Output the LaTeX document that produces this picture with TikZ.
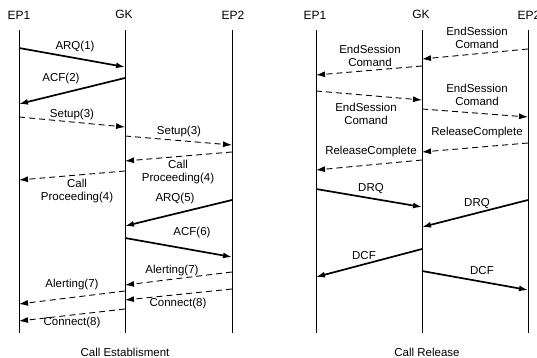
\documentclass[tikz,border=0pt]{standalone}
\usepackage{fontspec}
\setmainfont{Liberation Sans}
\usetikzlibrary{arrows.meta}
\begin{document}
\begin{tikzpicture}[x=1pt,y=-1pt,
  lifeline/.style={line width=0.9pt},
  msg/.style={line width=1.7pt,-{Latex[length=9pt,width=6pt]}},
  dmsg/.style={line width=0.9pt,dash pattern=on 6pt off 4pt,-{Latex[length=9pt,width=6pt]}},
  lbl/.style={font={\fontsize{11.5}{13}\selectfont},inner sep=0pt,align=center},
  hdr/.style={font={\fontsize{12}{13}\selectfont},inner sep=0pt}]
\useasboundingbox (0,0) rectangle (537,358);
\clip (0,0) rectangle (537,358);
% headers
\node[hdr] (h1) at (19,15) {EP1};
\node[hdr] (h2) at (124,14) {GK};
\node[hdr] (h3) at (233,15) {EP2};
\node[hdr] (h4) at (315,15) {EP1};
\node[hdr] (h5) at (421,14) {GK};
\node[hdr] (h6) at (529,15) {EP2};
% lifelines
\foreach \n/\x in {a/19,b/125,c/232,d/316,e/422,f/528}{
  \coordinate (\n t) at (\x,30);
  \coordinate (\n b) at (\x,333);
  \draw[lifeline] (\n t) -- (\n b);
}
% captions
\node[lbl] (cap1) at (125,352) {Call Establisment};
\node[lbl] (cap2) at (427,352) {Call Release};
% ---- left panel
\coordinate (l1s) at (19,48);  \coordinate (l1e) at (125,67);
\draw[msg] (l1s) -- (l1e);
\node[lbl] (t1) at (75,47) {ARQ(1)};
\coordinate (l2s) at (125,78); \coordinate (l2e) at (19,104);
\draw[msg] (l2s) -- (l2e);
\node[lbl] (t2) at (61,79) {ACF(2)};
\coordinate (l3s) at (19,117); \coordinate (l3e) at (125,127);
\draw[dmsg] (l3s) -- (l3e);
\node[lbl] (t3) at (72,115) {Setup(3)};
\coordinate (l4s) at (125,136); \coordinate (l4e) at (232,145);
\draw[dmsg] (l4s) -- (l4e);
\node[lbl] (t4) at (179,132) {Setup(3)};
\coordinate (l5s) at (232,152); \coordinate (l5e) at (125,161);
\draw[dmsg] (l5s) -- (l5e);
\node[lbl] (t5) at (178,172) {Call\\Proceeding(4)};
\coordinate (l6s) at (125,171); \coordinate (l6e) at (19,180);
\draw[dmsg] (l6s) -- (l6e);
\node[lbl] (t6) at (77,191) {Call\\Proceeding(4)};
\coordinate (l7s) at (232,200); \coordinate (l7e) at (125,226);
\draw[msg] (l7s) -- (l7e);
\node[lbl] (t7) at (175,199) {ARQ(5)};
\coordinate (l8s) at (125,238); \coordinate (l8e) at (232,257);
\draw[msg] (l8s) -- (l8e);
\node[lbl] (t8) at (192,233) {ACF(6)};
\coordinate (l9s) at (232,272); \coordinate (l9e) at (125,285);
\draw[dmsg] (l9s) -- (l9e);
\node[lbl] (t9) at (172,271) {Alerting(7)};
\coordinate (l10s) at (125,291); \coordinate (l10e) at (19,304);
\draw[dmsg] (l10s) -- (l10e);
\node[lbl] (t10) at (72,285) {Alerting(7)};
\coordinate (l11s) at (232,289); \coordinate (l11e) at (125,300);
\draw[dmsg] (l11s) -- (l11e);
\node[lbl] (t11) at (178,304) {Connect(8)};
\coordinate (l12s) at (125,309); \coordinate (l12e) at (19,321);
\draw[dmsg] (l12s) -- (l12e);
\node[lbl] (t12) at (72,323) {Connect(8)};
% ---- right panel
\coordinate (r1s) at (528,49); \coordinate (r1e) at (422,59);
\draw[dmsg] (r1s) -- (r1e);
\node[lbl] (u1) at (477,38) {EndSession\\Comand};
\coordinate (r2s) at (422,66); \coordinate (r2e) at (316,75);
\draw[dmsg] (r2s) -- (r2e);
\node[lbl] (u2) at (370,56) {EndSession\\Comand};
\coordinate (r3s) at (316,91); \coordinate (r3e) at (422,100);
\draw[dmsg] (r3s) -- (r3e);
\node[lbl] (u3) at (366,114) {EndSession\\Comand};
\coordinate (r4s) at (422,109); \coordinate (r4e) at (528,117);
\draw[dmsg] (r4s) -- (r4e);
\node[lbl] (u4) at (477,95) {EndSession\\Comand};
\coordinate (r5s) at (528,143); \coordinate (r5e) at (422,152);
\draw[dmsg] (r5s) -- (r5e);
\node[lbl] (u5) at (477,133) {ReleaseComplete};
\coordinate (r6s) at (422,160); \coordinate (r6e) at (316,170);
\draw[dmsg] (r6s) -- (r6e);
\node[lbl] (u6) at (371,152) {ReleaseComplete};
\coordinate (r7s) at (316,189); \coordinate (r7e) at (422,207);
\draw[msg] (r7s) -- (r7e);
\node[lbl] (u7) at (371,189) {DRQ};
\coordinate (r8s) at (528,200); \coordinate (r8e) at (422,227);
\draw[msg] (r8s) -- (r8e);
\node[lbl] (u8) at (477,204) {DRQ};
\coordinate (r9s) at (422,249); \coordinate (r9e) at (316,277);
\draw[msg] (r9s) -- (r9e);
\node[lbl] (u9) at (364,256) {DCF};
\coordinate (r10s) at (422,271); \coordinate (r10e) at (528,290);
\draw[msg] (r10s) -- (r10e);
\node[lbl] (u10) at (482,271) {DCF};
\end{tikzpicture}
\end{document}
